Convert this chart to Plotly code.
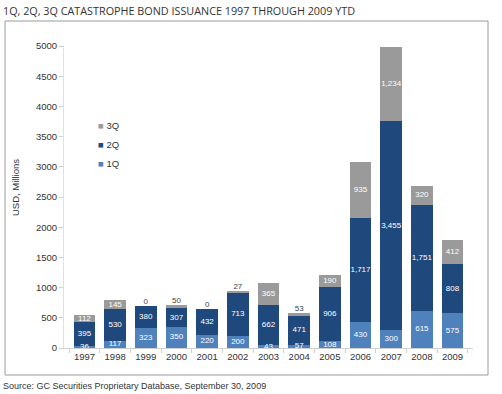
import plotly.graph_objects as go

years = ["1997", "1998", "1999", "2000", "2001", "2002", "2003",
         "2004", "2005", "2006", "2007", "2008", "2009"]
q1 = [36, 117, 323, 350, 220, 200, 43, 57, 108, 430, 300, 615, 575]
q2 = [395, 530, 380, 307, 432, 713, 662, 471, 906, 1717, 3455, 1751, 808]
q3 = [112, 145, 0, 50, 0, 27, 365, 53, 190, 935, 1234, 320, 412]
series_names = ["1Q", "2Q", "3Q"]
series_colors = ["#4f81bd", "#1f497d", "#9a9a9a"]
y_ticks = [0, 500, 1000, 1500, 2000, 2500, 3000, 3500, 4000, 4500, 5000]

FONT = "Liberation Sans, Arial, sans-serif"
W, H = 502, 394
L, R, T, B = 64, 29, 46, 46
pw, ph = W - L - R, H - T - B


def px_x(p):
    return (p - L) / pw


def px_y(p):
    return (H - B - p) / ph


fig = go.Figure()
series = [q1, q2, q3]
base = [0] * len(years)
for name, vals, col in zip(series_names, series, series_colors):
    fig.add_trace(go.Bar(
        x=years, y=vals, name=name, marker=dict(color=col, line=dict(width=0)),
        showlegend=False, hoverinfo="x+y+name",
    ))
    small = [name == "3Q" and v < 100 for v in vals]
    mids = [b + v / 2 for b, v in zip(base, vals)]
    tops = [b + v for b, v in zip(base, vals)]
    # inside labels
    fig.add_trace(go.Scatter(
        x=[y for y, s in zip(years, small) if not s],
        y=[m for m, s in zip(mids, small) if not s],
        text=[f"{v:,}" for v, s in zip(vals, small) if not s],
        mode="text", textposition="middle center",
        textfont=dict(family=FONT, size=8, color="white"),
        showlegend=False, hoverinfo="skip", cliponaxis=False,
    ))
    # labels above small top segments
    if any(small):
        fig.add_trace(go.Scatter(
            x=[y for y, s in zip(years, small) if s],
            y=[t for t, s in zip(tops, small) if s],
            text=[f"{v:,}" for v, s in zip(vals, small) if s],
            mode="text", textposition="top center",
            textfont=dict(family=FONT, size=8, color="#444444"),
            showlegend=False, hoverinfo="skip", cliponaxis=False,
        ))
    base = tops

# legend built as text entries
annotations = []
for i, (name, col) in enumerate(reversed(list(zip(series_names, series_colors)))):
    annotations.append(dict(
        xref="paper", yref="paper", x=px_x(96), y=px_y(125 + 19 * i),
        xanchor="left", yanchor="middle", showarrow=False,
        text=f"<span style='color:{col};font-size:9.5px'>■</span> {name}",
        font=dict(family=FONT, size=9.5, color="#333333"),
    ))

annotations.append(dict(
    xref="paper", yref="paper", x=px_x(1), y=px_y(10), xanchor="left", yanchor="middle",
    showarrow=False, text="1Q, 2Q, 3Q CATASTROPHE BOND ISSUANCE 1997 THROUGH 2009 YTD",
    font=dict(family="Open Sans, sans-serif", size=10.8, color="#333333"),
))
annotations.append(dict(
    xref="paper", yref="paper", x=px_x(1), y=px_y(386), xanchor="left", yanchor="middle",
    showarrow=False, text="Source: GC Securities Proprietary Database, September 30, 2009",
    font=dict(family=FONT, size=9, color="#333333"),
))
annotations.append(dict(
    xref="paper", yref="paper", x=px_x(15), y=px_y(188), xanchor="center", yanchor="middle",
    showarrow=False, text="USD, Millions", textangle=-90,
    font=dict(family=FONT, size=9.5, color="#333333"),
))

shapes = [dict(
    type="rect", xref="paper", yref="paper",
    x0=px_x(5), x1=px_x(488), y0=px_y(375), y1=px_y(21),
    line=dict(color="#9a9a9a", width=1), fillcolor="rgba(0,0,0,0)", layer="below",
)]

fig.update_layout(
    width=W, height=H,
    margin=dict(l=L, r=R, t=T, b=B, autoexpand=False),
    barmode="stack", bargap=0.3,
    plot_bgcolor="white", paper_bgcolor="white",
    font=dict(family=FONT, size=9.5, color="#333333"),
    annotations=annotations, shapes=shapes,
    xaxis=dict(
        type="category", showgrid=False, showline=True, linecolor="#d0d0d0",
        ticks="outside", ticklen=4, tickcolor="#d0d0d0", tickson="boundaries",
        tickfont=dict(family=FONT, size=9.5, color="#333333"),
    ),
    yaxis=dict(
        range=[0, 5000], tickvals=y_ticks, showgrid=False, zeroline=False,
        showline=True, linecolor="#e0e0e0", ticks="outside", ticklen=4,
        tickcolor="#d0d0d0", tickfont=dict(family=FONT, size=9.5, color="#333333"),
    ),
)

fig.write_html("out.html", config={"displayModeBar": False},
               post_script="document.body.style.margin='0';document.body.style.overflow='hidden';")
